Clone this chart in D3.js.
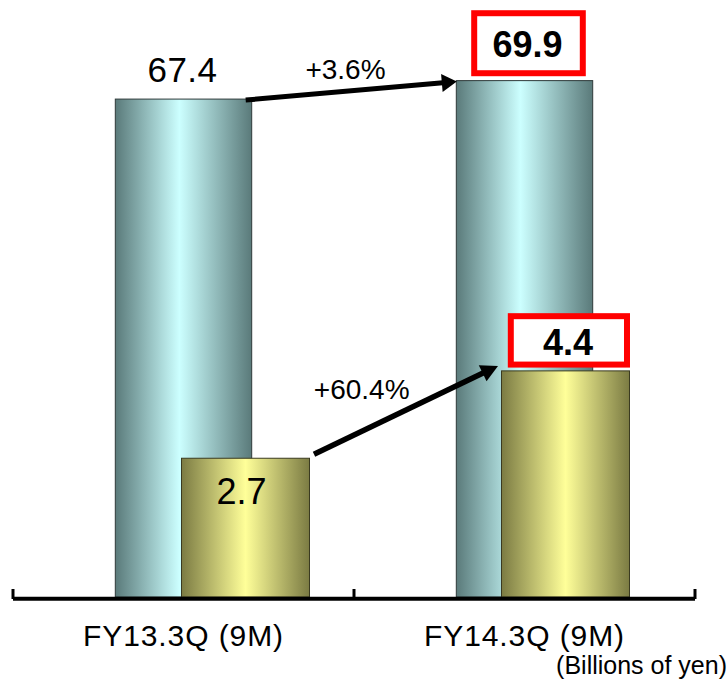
<!DOCTYPE html>
<html>
<head>
<meta charset="utf-8">
<script src="https://cdn.jsdelivr.net/npm/d3@7"></script>
<style>
  html, body { margin: 0; padding: 0; background: #fff; }
  svg { display: block; }
  text { font-family: "Liberation Sans", Arial, sans-serif; fill: #000; }
</style>
</head>
<body>
<svg id="chart" width="728" height="681"></svg>
<script>
// ---- data ----
const categories = ["FY13.3Q (9M)", "FY14.3Q (9M)"];
const primaryValues = [67.4, 69.9];     // teal bars (left scale)
const secondaryValues = [2.7, 4.4];     // yellow bars (secondary scale)
const changeLabels = ["+3.6%", "+60.4%"];
const unitLabel = "(Billions of yen)";

const svg = d3.select("#chart");
const baseY = 597, topY = 6;

const x = d3.scaleBand().domain(categories).range([13, 695]);
const x2 = d3.scaleBand().domain(categories).range([85.5, 725.5]);
const y = d3.scaleLinear().domain([0, 80]).range([baseY, topY]);
const y2 = d3.scaleLinear().domain([0, 11.5]).range([baseY, topY]);

const barFrac = 0.4;
const bw1 = x.bandwidth() * barFrac;
const bw2 = x2.bandwidth() * barFrac;

// gradients
const defs = svg.append("defs");
function hGrad(id, edge, peak, pos) {
  const g = defs.append("linearGradient").attr("id", id)
    .attr("x1", "0%").attr("x2", "100%").attr("y1", "0%").attr("y2", "0%");
  g.append("stop").attr("offset", "0%").attr("stop-color", edge);
  g.append("stop").attr("offset", pos).attr("stop-color", peak);
  g.append("stop").attr("offset", "100%").attr("stop-color", edge);
}
hGrad("tealGrad", "#5a7a7a", "#ccffff", "47%");
hGrad("yellowGrad", "#7b7b43", "#ffff99", "50%");

// teal bars
const tealX = d => x(d) + (x.bandwidth() - bw1) / 2;
svg.append("g").selectAll("rect").data(categories).join("rect")
  .attr("x", d => tealX(d))
  .attr("y", (d, i) => y(primaryValues[i]))
  .attr("width", bw1)
  .attr("height", (d, i) => baseY - y(primaryValues[i]))
  .attr("fill", "url(#tealGrad)")
  .attr("stroke", "#2f3a3a").attr("stroke-width", 1);

// yellow bars
const yelX = d => x2(d) + (x2.bandwidth() - bw2) / 2;
svg.append("g").selectAll("rect").data(categories).join("rect")
  .attr("x", d => yelX(d))
  .attr("y", (d, i) => y2(secondaryValues[i]))
  .attr("width", bw2)
  .attr("height", (d, i) => baseY - y2(secondaryValues[i]))
  .attr("fill", "url(#yellowGrad)")
  .attr("stroke", "#3a3a20").attr("stroke-width", 1);

// axis
const axisG = svg.append("g");
axisG.append("line")
  .attr("x1", x.range()[0]).attr("x2", x.range()[1])
  .attr("y1", baseY + 1.7).attr("y2", baseY + 1.7)
  .attr("stroke", "#000").attr("stroke-width", 4);
const tickXs = categories.map(c => x(c)).concat([x.range()[1]]);
axisG.selectAll("line.tick").data(tickXs).join("line")
  .attr("class", "tick")
  .attr("x1", d => d).attr("x2", d => d)
  .attr("y1", baseY - 8).attr("y2", baseY + 2)
  .attr("stroke", "#000").attr("stroke-width", 3);

// category labels
svg.append("g").selectAll("text").data(categories).join("text")
  .attr("x", d => x(d) + x.bandwidth() / 2)
  .attr("y", 646)
  .attr("text-anchor", "middle")
  .attr("font-size", 30)
  .attr("letter-spacing", 0.9)
  .text(d => d);

svg.append("text")
  .attr("x", 727).attr("y", 674)
  .attr("text-anchor", "end")
  .attr("font-size", 25)
  .text(unitLabel);

const c0 = categories[0], c1 = categories[1];
svg.append("text")
  .attr("x", tealX(c0) + bw1 / 2 - 1)
  .attr("y", y(primaryValues[0]) - 17)
  .attr("text-anchor", "middle").attr("font-size", 35)
  .attr("letter-spacing", 0.5)
  .text(primaryValues[0].toFixed(1));

svg.append("text")
  .attr("x", yelX(c0) + bw2 / 2 - 4)
  .attr("y", y2(secondaryValues[0]) + 46)
  .attr("text-anchor", "middle").attr("font-size", 36)
  .text(secondaryValues[0].toFixed(1));

// 69.9 box
const b1cx = tealX(c1) + bw1 / 2 + 4;
svg.append("rect")
  .attr("x", b1cx - 54.3).attr("y", y(primaryValues[1]) - 67.4)
  .attr("width", 108.6).attr("height", 60)
  .attr("fill", "#fff").attr("stroke", "#ff0000").attr("stroke-width", 6);
svg.append("text")
  .attr("x", b1cx - 1).attr("y", y(primaryValues[1]) - 24)
  .attr("text-anchor", "middle").attr("font-size", 36).attr("font-weight", "bold")
  .text(primaryValues[1].toFixed(1));

// 4.4 box
const b2cx = yelX(c1) + bw2 / 2 + 3.4;
svg.append("rect")
  .attr("x", b2cx - 58.1).attr("y", y2(secondaryValues[1]) - 54.7)
  .attr("width", 116.2).attr("height", 48.4)
  .attr("fill", "#fff").attr("stroke", "#ff0000").attr("stroke-width", 6);
svg.append("text")
  .attr("x", b2cx - 1).attr("y", y2(secondaryValues[1]) - 16)
  .attr("text-anchor", "middle").attr("font-size", 36).attr("font-weight", "bold")
  .text(secondaryValues[1].toFixed(1));

// arrows
function arrow(x1, y1, x2p, y2p, lw, headLen, headW) {
  const dx = x2p - x1, dy = y2p - y1;
  const L = Math.hypot(dx, dy);
  const ux = dx / L, uy = dy / L;
  const px = -uy, py = ux;
  const bx = x2p - ux * headLen, by = y2p - uy * headLen;
  svg.append("line")
    .attr("x1", x1).attr("y1", y1).attr("x2", bx + ux * 1).attr("y2", by + uy * 1)
    .attr("stroke", "#000").attr("stroke-width", lw);
  svg.append("path")
    .attr("d", d3.line()([[x2p, y2p], [bx + px * headW / 2, by + py * headW / 2], [bx - px * headW / 2, by - py * headW / 2]]) + "Z")
    .attr("fill", "#000");
}
arrow(tealX(c0) + bw1 - 6, y(primaryValues[0]) + 1, tealX(c1) + 0.5, y(primaryValues[1]) + 1, 5, 15, 18);
arrow(yelX(c0) + bw2 + 4.5, y2(secondaryValues[0]) - 4, yelX(c1) - 3.5, y2(secondaryValues[1]) - 5, 5.5, 17, 18);

// change labels
svg.append("text")
  .attr("x", 345.5).attr("y", 79)
  .attr("text-anchor", "middle").attr("font-size", 28)
  .text(changeLabels[0]);
svg.append("text")
  .attr("x", 361.7).attr("y", 399)
  .attr("text-anchor", "middle").attr("font-size", 28)
  .text(changeLabels[1]);
</script>
</body>
</html>
